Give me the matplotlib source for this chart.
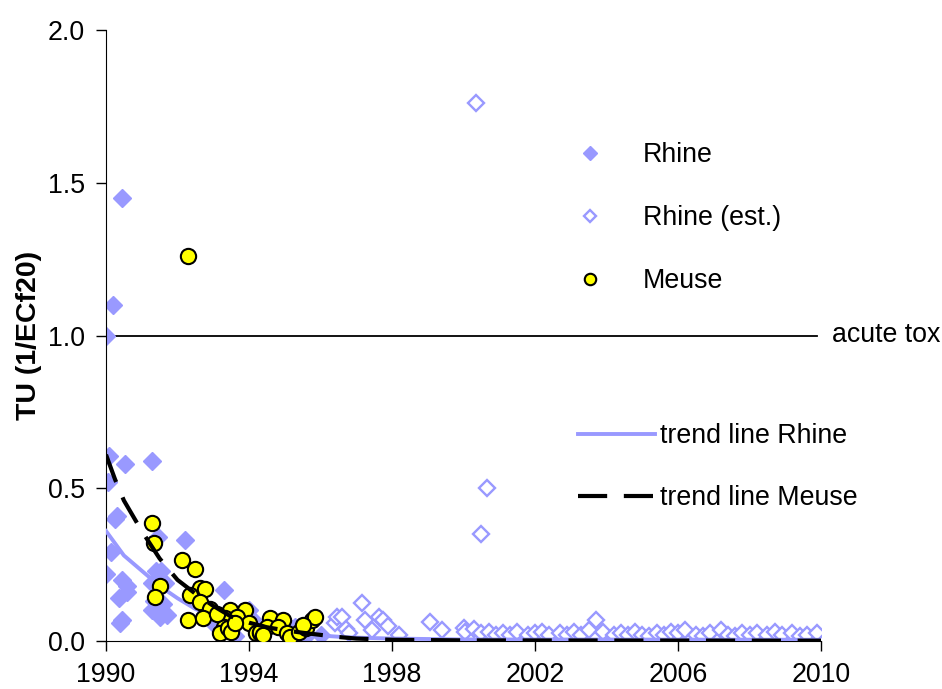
import matplotlib.pyplot as plt

plt.rcParams['font.family'] = ['Liberation Sans', 'DejaVu Sans']

# Rhine measurements (filled diamonds)
rhine_year = [1990.0, 1990.2, 1990.45, 1990.08, 1990.06, 1990.53, 1991.29, 1990.3, 1990.25,
              1990.14, 1990.0, 1990.45, 1990.6, 1990.35, 1990.45, 1990.4, 1990.6, 1991.45,
              1992.2, 1991.4, 1991.55, 1991.3, 1991.65, 1991.35, 1991.45, 1991.7, 1991.3,
              1991.6, 1991.5, 1993.3, 1993.0, 1993.5, 1993.6, 1994.0, 1994.1, 1994.6,
              1995.2, 1995.3, 1995.5, 1995.6, 1996.0]
rhine_tu = [1.00, 1.10, 1.45, 0.605, 0.52, 0.58, 0.59, 0.41, 0.40,
            0.29, 0.22, 0.20, 0.18, 0.14, 0.07, 0.06, 0.16, 0.34,
            0.33, 0.23, 0.23, 0.19, 0.19, 0.13, 0.10, 0.085, 0.10,
            0.12, 0.08, 0.167, 0.06, 0.03, 0.015, 0.10, 0.07, 0.05,
            0.04, 0.045, 0.03, 0.015, 0.02]

# Rhine estimated values (open diamonds)
rhine_est_year = [1996.4, 1996.46, 1996.6, 1996.7, 1996.8, 1997.15, 1997.25, 1997.45, 1997.65,
                  1997.75, 1997.9, 1998.2, 1999.06, 1999.4, 2000.35, 2000.65, 2000.5, 2000.0,
                  2000.05, 2000.3, 2000.5, 2000.7, 2000.9, 2001.1, 2001.3, 2001.5, 2001.8,
                  2002.0, 2002.2, 2002.4, 2002.7, 2002.9, 2003.1, 2003.3, 2003.5, 2003.7,
                  2003.9, 2004.2, 2004.4, 2004.6, 2004.8, 2005.0, 2005.2, 2005.4, 2005.6,
                  2005.8, 2006.0, 2006.2, 2006.5, 2006.7, 2006.9, 2007.2, 2007.4, 2007.6,
                  2007.8, 2008.0, 2008.2, 2008.5, 2008.7, 2008.9, 2009.2, 2009.4, 2009.6,
                  2009.9]
rhine_est_tu = [0.06, 0.079, 0.079, 0.04, 0.025, 0.124, 0.069, 0.036, 0.079,
                0.07, 0.05, 0.02, 0.062, 0.036, 1.76, 0.50, 0.35, 0.042,
                0.03, 0.04, 0.025, 0.03, 0.02, 0.025, 0.02, 0.03, 0.02,
                0.025, 0.03, 0.02, 0.025, 0.02, 0.03, 0.02, 0.035, 0.069,
                0.03, 0.02, 0.025, 0.02, 0.03, 0.02, 0.015, 0.025, 0.02,
                0.03, 0.025, 0.035, 0.02, 0.015, 0.025, 0.035, 0.02, 0.015,
                0.025, 0.02, 0.025, 0.02, 0.03, 0.02, 0.025, 0.015, 0.02,
                0.025]

# Meuse measurements
meuse_year = [1992.3, 1991.29, 1991.33, 1992.13, 1992.5, 1991.5, 1991.37, 1992.63, 1992.77,
              1992.35, 1992.63, 1992.9, 1992.3, 1992.7, 1993.47, 1993.9, 1993.33, 1993.66,
              1993.3, 1993.2, 1994.0, 1994.2, 1994.6, 1994.95, 1994.5, 1994.8, 1994.3,
              1995.06, 1995.15, 1995.4, 1995.6, 1995.75, 1995.85, 1995.5, 1993.4, 1993.5,
              1994.3, 1994.4, 1993.1, 1993.6]
meuse_tu = [1.26, 0.386, 0.32, 0.265, 0.235, 0.18, 0.145, 0.173, 0.17,
            0.15, 0.128, 0.105, 0.069, 0.075, 0.10, 0.10, 0.075, 0.079,
            0.046, 0.026, 0.059, 0.026, 0.075, 0.069, 0.046, 0.045, 0.026,
            0.026, 0.013, 0.03, 0.042, 0.069, 0.079, 0.052, 0.042, 0.03,
            0.03, 0.02, 0.09, 0.06]

# trend lines
trend_rhine_year = [1990.0, 1990.5, 1991.0, 1991.5, 1992.0, 1992.5, 1993.0, 1993.5, 1994.0,
                    1994.5, 1995.0, 1995.5, 1996.0, 1996.5, 1997.0, 1998.0, 2000.0, 2010.0]
trend_rhine_tu = [0.36, 0.28, 0.23, 0.18, 0.14, 0.105, 0.08, 0.06, 0.046,
                  0.037, 0.03, 0.024, 0.018, 0.014, 0.011, 0.008, 0.005, 0.004]
trend_meuse_year = [1990.0, 1990.25, 1990.5, 1991.0, 1991.5, 1992.0, 1992.5, 1993.0, 1993.5,
                    1994.0, 1994.5, 1995.0, 1995.5, 1996.0, 1996.5, 1997.0, 1998.0, 2000.0,
                    2010.0]
trend_meuse_tu = [0.61, 0.53, 0.46, 0.36, 0.27, 0.20, 0.155, 0.115, 0.08,
                  0.06, 0.045, 0.035, 0.027, 0.02, 0.013, 0.008, 0.004, 0.002,
                  0.001]

acute_tox = 1.0

lav = '#9999FF'
fs = 19.3

fig = plt.figure(figsize=(9.42, 6.89), dpi=100)
ax = fig.add_axes([106/942, 48/689, 715/942, 611/689])

ax.plot([1990, 2009.9], [acute_tox, acute_tox], color='black', lw=1.3, zorder=1)
ax.text(2010.3, acute_tox, 'acute tox', fontsize=fs, va='center', ha='left', clip_on=False)

ax.plot(rhine_year, rhine_tu, 'D', ms=9.5, color=lav, mec=lav, zorder=2, label='Rhine')
ax.plot(rhine_est_year, rhine_est_tu, 'D', ms=8.5, mfc='white', mec=lav, mew=1.7,
        zorder=2, label='Rhine (est.)')
ax.plot(trend_rhine_year, trend_rhine_tu, '-', color=lav, lw=2.8, zorder=3,
        label='trend line Rhine')
ax.plot(meuse_year, meuse_tu, 'o', ms=11, mfc='#FFFF00', mec='black', mew=1.5,
        zorder=4, label='Meuse')
ax.plot(trend_meuse_year, trend_meuse_tu, '--', color='black', lw=3, dashes=(7, 4),
        zorder=5, label='trend line Meuse')

ax.set_xlim(1990, 2010)
ax.set_ylim(0, 2.0)
ax.set_xticks([1990, 1994, 1998, 2002, 2006, 2010])
ax.set_yticks([0.0, 0.5, 1.0, 1.5, 2.0])
ax.set_yticklabels(['0.0', '0.5', '1.0', '1.5', '2.0'])
ax.tick_params(direction='out', length=7, width=1, labelsize=fs, pad=8)
ax.spines['top'].set_visible(False)
ax.spines['right'].set_visible(False)
ax.set_ylabel('TU (1/ECf20)', fontsize=20.5, fontweight='bold', labelpad=4)

# legends
h = ax.get_legend_handles_labels()
hd = dict(zip(h[1], h[0]))
leg1 = ax.legend([hd['Rhine'], hd['Rhine (est.)'], hd['Meuse']],
                 ['Rhine', 'Rhine (est.)', 'Meuse'],
                 loc='upper left', bbox_to_anchor=(563/942, 1 - 142/689),
                 bbox_transform=fig.transFigure, frameon=False, fontsize=fs,
                 handlelength=2.0, handletextpad=0.98, labelspacing=1.38,
                 markerscale=0.75, borderpad=0, borderaxespad=0)
ax.add_artist(leg1)
ax.legend([hd['trend line Rhine'], hd['trend line Meuse']],
          ['trend line Rhine', 'trend line Meuse'],
          loc='upper left', bbox_to_anchor=(578/942, 1 - 423/689),
          bbox_transform=fig.transFigure, frameon=False, fontsize=fs,
          handlelength=2.87, handletextpad=0.19, labelspacing=1.35,
          borderpad=0, borderaxespad=0)

fig.savefig('out.png', dpi=100)
